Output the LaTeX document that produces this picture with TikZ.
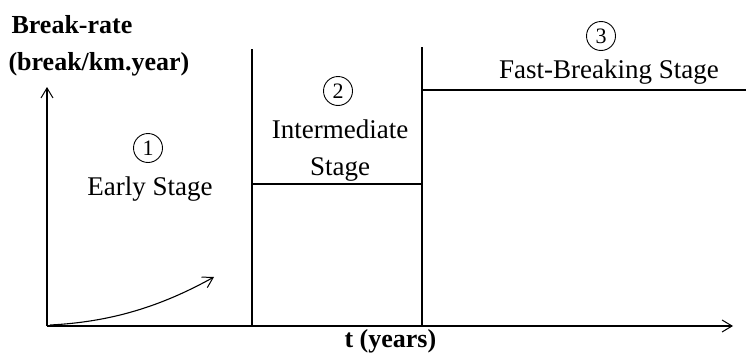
\documentclass[tikz,border=0pt]{standalone}
\usepackage{fontspec}
\setmainfont{Liberation Serif}
\usetikzlibrary{arrows.meta}
\tikzset{
  stagetxt/.style={font=\rmfamily\fontsize{27}{30}\selectfont, inner sep=0pt, anchor=base},
  axistxt/.style={font=\rmfamily\fontsize{26}{30}\selectfont\bfseries, inner sep=0pt},
  stagenum/.style={draw, circle, line width=0.9pt, minimum size=29pt, inner sep=0pt,
    font=\rmfamily\fontsize{22}{24}\selectfont},
  axisarrow/.style={-{Straight Barb[length=10pt,width=12pt,line width=1pt]}}
}

\begin{document}
\begin{tikzpicture}[x=1pt,y=-1pt,line width=1.1pt]
  \useasboundingbox (0,0) rectangle (746,356);
  \coordinate (O) at (47,326);
  \coordinate (ytop) at (47,87);
  \coordinate (xend) at (733,326);
  \coordinate (a1) at (252,49);
  \coordinate (a0) at (252,326);
  \coordinate (b1) at (422,47);
  \coordinate (b0) at (422,326);
  \coordinate (mid) at (252,184);
  \coordinate (midr) at (422,184);
  \coordinate (fast) at (422,90);
  \coordinate (fastr) at (746,90);
  \coordinate (cs) at (50,325);
  \coordinate (ce) at (214,277);
  % axes
  \draw[axisarrow] (O) -- (ytop);
  \draw[axisarrow] (O) -- (xend);
  % stage borders
  \draw (a0) -- (a1);
  \draw (b0) -- (b1);
  \draw (mid) -- (midr);
  \draw (fast) -- (fastr);
  % early growth
  \draw[axisarrow] (cs) .. controls (110,322) and (160,307) .. (ce);
  % labels
  \node[axistxt, anchor=base west] (ylab1) at (11,33) {Break-rate};
  \node[axistxt, anchor=base west] (ylab2) at (8,70) {(break/km.year)};
  \node[axistxt, anchor=base west] (xlab) at (344,347) {t (years)};
  \node[stagenum] (n1) at (148,148) {1};
  \node[stagetxt] (s1) at (150,195) {Early Stage};
  \node[stagenum] (n2) at (338,91) {2};
  \node[stagetxt] (s2a) at (340,138) {Intermediate};
  \node[stagetxt] (s2b) at (340,175) {Stage};
  \node[stagenum] (n3) at (601,36) {3};
  \node[stagetxt] (s3) at (609,78) {Fast-Breaking Stage};
\end{tikzpicture}
\end{document}
